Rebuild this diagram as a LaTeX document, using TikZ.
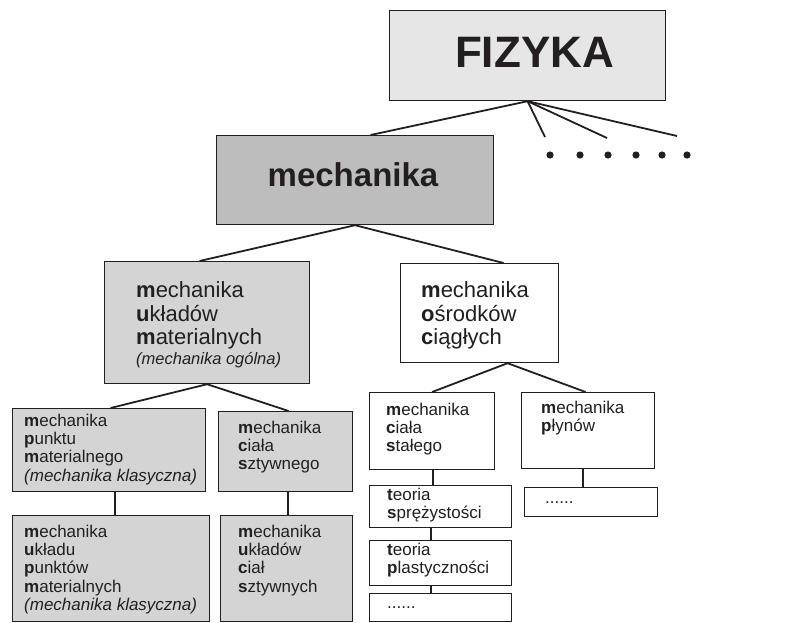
\documentclass[tikz,border=0pt]{standalone}
\usepackage{fontspec}
\setmainfont{Liberation Sans}
\definecolor{ink}{HTML}{231F20}
\definecolor{jasny}{HTML}{E6E6E6}
\definecolor{ciemny}{HTML}{BDBDBD}
\definecolor{sredni}{HTML}{D4D4D4}
\newcommand\lit[1]{\textbf{#1}}
\tikzset{
  ramka/.style={draw=ink, line width=1.2pt, anchor=north west, inner sep=0pt},
  opis/.style={anchor=north west, inner sep=0pt, align=left, text=ink},
  duzy/.style={opis, font=\fontsize{22}{23}\selectfont},
  maly/.style={opis, font=\fontsize{17}{18.3}\selectfont},
  galaz/.style={draw=ink, line width=1.8pt},
}
\begin{document}
\begin{tikzpicture}[x=1pt,y=-1pt]
    \useasboundingbox (0,0) rectangle (790,622);
    % gora
    \node[ramka, fill=jasny, minimum width=276pt, minimum height=90pt] (fizyka) at (389,10) {};
    \node[anchor=base, text=ink, font=\fontsize{44}{48}\selectfont\bfseries] (fizykaT) at (534.5,67) {FIZYKA};
    \node[ramka, fill=ciemny, minimum width=277pt, minimum height=89pt] (mech) at (216,135) {};
    \node[anchor=base, text=ink, font=\fontsize{33}{36}\selectfont\bfseries] (mechT) at (353,186) {mechanika};
    \coordinate (k1) at (545,137);
    \coordinate (k2) at (607,138);
    \coordinate (k3) at (677,136);
    \draw[galaz] (fizyka.south) -- ([xshift=15.5pt]mech.north);
    \foreach \k in {k1,k2,k3}
      \draw[galaz] (fizyka.south) -- (\k);
    \foreach \x in {550,580,608,636,662,687}
      \fill[ink] (\x,155) circle (3.6pt);
    % poziom 3
    \node[ramka, fill=sredni, minimum width=205pt, minimum height=122pt] (mum) at (104,261) {};
    \node[duzy] (mumT) at (136,280.9) {\strut\lit{m}echanika\\ \lit{u}kładów\\ \lit{m}aterialnych\\[-3pt]
      {\fontsize{16.5}{20}\selectfont\itshape (mechanika ogólna)}};
    \node[ramka, fill=white, minimum width=158pt, minimum height=99pt] (moc) at (400,263) {};
    \node[duzy] (mocT) at (421,280.9) {\strut\lit{m}echanika\\ \lit{o}środków\\ \lit{c}iągłych};
    \draw[galaz] (mech.south) -- ([xshift=-7.5pt]mum.north);
    \draw[galaz] (mech.south) -- ([xshift=24pt]moc.north);
    % lewa strona
    \node[ramka, fill=sredni, minimum width=193pt, minimum height=83pt] (pmat) at (12,408) {};
    \node[maly] (pmatT) at (24,413.2) {\strut\lit{m}echanika\\ \lit{p}unktu\\ \lit{m}aterialnego\\ \textit{(mechanika klasyczna)}};
    \node[ramka, fill=sredni, minimum width=134pt, minimum height=80pt] (csz) at (218,411) {};
    \node[maly] (cszT) at (238,420.2) {\strut\lit{m}echanika\\ \lit{c}iała\\ \lit{s}ztywnego};
    \node[ramka, fill=sredni, minimum width=197pt, minimum height=106pt] (upm) at (12,515) {};
    \node[maly] (upmT) at (24,524.2) {\strut\lit{m}echanika\\ \lit{u}kładu\\ \lit{p}unktów\\ \lit{m}aterialnych\\ \textit{(mechanika klasyczna)}};
    \node[ramka, fill=sredni, minimum width=132pt, minimum height=106pt] (ucs) at (220,515) {};
    \node[maly] (ucsT) at (238,524.2) {\strut\lit{m}echanika\\ \lit{u}kładów\\ \lit{c}iał\\ \lit{s}ztywnych};
    \draw[galaz] (mum.south) -- ([xshift=1.5pt]pmat.north);
    \draw[galaz] (mum.south) -- ([xshift=3pt]csz.north);
    \draw[galaz] ([xshift=5.5pt]pmat.south) -- ([xshift=5.5pt]pmat.south |- upm.north);
    \draw[galaz] ([xshift=2pt]csz.south) -- ([xshift=2pt]csz.south |- ucs.north);
    % prawa strona
    \node[ramka, fill=white, minimum width=125pt, minimum height=77pt] (cst) at (369,392) {};
    \node[maly] (cstT) at (386,402.2) {\strut\lit{m}echanika\\ \lit{c}iała\\ \lit{s}tałego};
    \node[ramka, fill=white, minimum width=133pt, minimum height=76pt] (ply) at (521,392) {};
    \node[maly] (plyT) at (541,400.2) {\strut\lit{m}echanika\\ \lit{p}łynów};
    \node[ramka, fill=white, minimum width=142pt, minimum height=42pt] (spr) at (369,485) {};
    \node[maly] (sprT) at (387,487.2) {\strut\lit{t}eoria\\ \lit{s}prężystości};
    \node[ramka, fill=white, minimum width=142pt, minimum height=45pt] (pla) at (369,540) {};
    \node[maly] (plaT) at (387,542.2) {\strut\lit{t}eoria\\ \lit{p}lastyczności};
    \node[ramka, fill=white, minimum width=142pt, minimum height=28pt] (kro1) at (369,593) {};
    \node[maly] (kro1T) at (387,595.2) {\strut......};
    \node[ramka, fill=white, minimum width=133pt, minimum height=29pt] (kro2) at (524,487) {};
    \node[maly] (kro2T) at (545,490.2) {\strut......};
    \draw[galaz] ([xshift=28pt]moc.south) -- (cst.north);
    \draw[galaz] ([xshift=28pt]moc.south) -- ([xshift=-2.5pt]ply.north);
    \draw[galaz] ([xshift=0.5pt]cst.south) -- ([xshift=0.5pt]cst.south |- spr.north);
    \draw[galaz] ([xshift=-10pt]spr.south) -- ([xshift=-10pt]spr.south |- pla.north);
    \draw[galaz] ([xshift=-10pt]pla.south) -- ([xshift=-10pt]pla.south |- kro1.north);
    \draw[galaz] ([xshift=-5.5pt]ply.south) -- ([xshift=-5.5pt]ply.south |- kro2.north);
\end{tikzpicture}
\end{document}
